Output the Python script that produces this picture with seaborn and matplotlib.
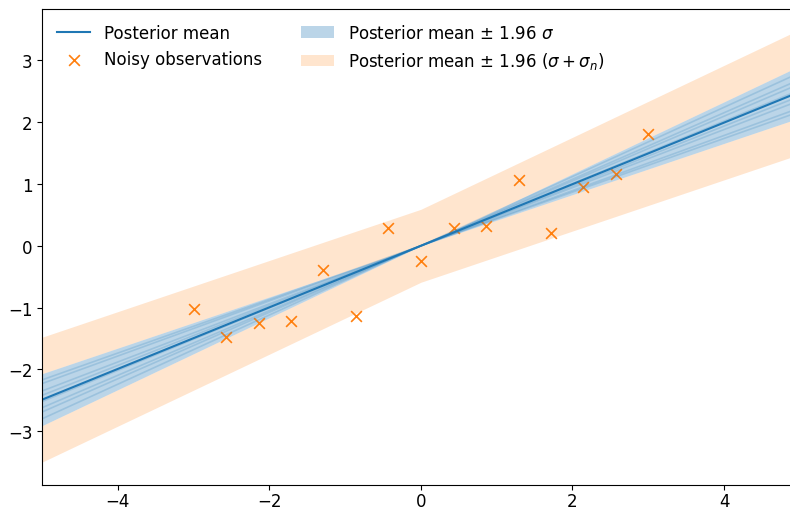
import numpy as np
import pandas as pd
import matplotlib
matplotlib.use("Agg")
import matplotlib.pyplot as plt
import seaborn as sns

# ---- data ----
x_grid = [-5.0, 0.0, 5.0]
post_mean = [-2.49, 0.0, 2.49]
half_sigma = [0.42, 0.0, 0.42]          # 1.96 * sigma
half_sigma_noise = [1.01, 0.59, 1.01]   # 1.96 * (sigma + sigma_n)

# posterior sample lines: value at x=-5 and x=5
sample_left = [-2.17, -2.23, -2.35, -2.42, -2.52, -2.62, -2.69, -2.80]
sample_right = [2.17, 2.23, 2.35, 2.42, 2.52, 2.62, 2.69, 2.80]

obs_x = [-3.0, -2.57, -2.14, -1.71, -1.29, -0.86, -0.43, 0.0,
         0.43, 0.86, 1.29, 1.71, 2.14, 2.57, 3.0]
obs_y = [-1.03, -1.48, -1.25, -1.22, -0.40, -1.14, 0.29, -0.25,
         0.29, 0.32, 1.06, 0.21, 0.95, 1.16, 1.80]

yticks = [-3, -2, -1, 0, 1, 2, 3]
xticks = [-4, -2, 0, 2, 4]

plt.rcParams['font.family'] = ['DejaVu Sans']
fig = plt.figure(figsize=(7.9, 5.1), dpi=100)
ax = fig.add_axes([42 / 790, 24 / 510, 748 / 790, 476 / 510])

xg = np.array(x_grid)
mu = np.array(post_mean)
hs = np.array(half_sigma)
hn = np.array(half_sigma_noise)

# orange band (outside the blue one)
ax.fill_between(xg, mu + hs, mu + hn, color="C1", alpha=0.2, linewidth=0,
                label=r"Posterior mean $\pm$ 1.96 $(\sigma + \sigma_n)$")
ax.fill_between(xg, mu - hn, mu - hs, color="C1", alpha=0.2, linewidth=0)
# blue band
ax.fill_between(xg, mu - hs, mu + hs, color="C0", alpha=0.3, linewidth=0,
                label=r"Posterior mean $\pm$ 1.96 $\sigma$")

for l, r in zip(sample_left, sample_right):
    sdf = pd.DataFrame({"x": [x_grid[0], x_grid[2]], "y": [l, r]})
    sns.lineplot(data=sdf, x="x", y="y", ax=ax, color="C0", alpha=0.2,
                 linewidth=1.2, legend=False)

mdf = pd.DataFrame({"x": x_grid, "y": post_mean})
sns.lineplot(data=mdf, x="x", y="y", ax=ax, color="C0", linewidth=1.5,
             label="Posterior mean")

odf = pd.DataFrame({"x": obs_x, "y": obs_y})
sns.scatterplot(data=odf, x="x", y="y", ax=ax, marker="x", color="C1",
                s=60, linewidth=1.2, label="Noisy observations")

ax.set_xlim(-5.0, 4.87)
ax.set_ylim(-3.87, 3.83)
ax.set_xticks(xticks)
ax.set_yticks(yticks)
ax.set_xlabel("")
ax.set_ylabel("")
ax.tick_params(labelsize=12)
ax.tick_params(axis="x", pad=1.5)
ax.spines['right'].set_visible(False)

h, lab = ax.get_legend_handles_labels()
order = [lab.index("Posterior mean"), lab.index("Noisy observations"),
         lab.index(r"Posterior mean $\pm$ 1.96 $\sigma$"),
         lab.index(r"Posterior mean $\pm$ 1.96 $(\sigma + \sigma_n)$")]
ax.legend([h[i] for i in order], [lab[i] for i in order], loc="upper left",
          ncol=2, frameon=False, fontsize=12, columnspacing=2.35)

fig.savefig("out.png", dpi=100)
